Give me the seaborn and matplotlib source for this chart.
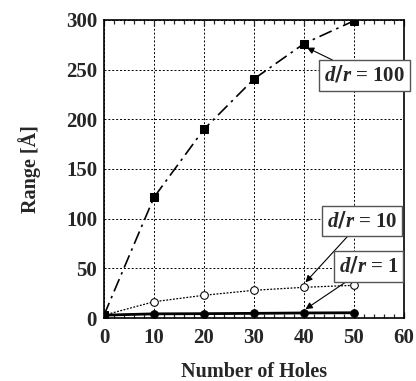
import matplotlib
matplotlib.use("Agg")
import matplotlib.pyplot as plt
import seaborn as sns
import pandas as pd
from matplotlib.ticker import MultipleLocator

holes = [0, 10, 20, 30, 40, 50]
range_dr100 = [3, 121.5, 190, 240.5, 276, 299]
range_dr10 = [3, 16.5, 23, 28, 31, 33]
range_dr1 = [3, 4.3, 4.5, 4.8, 5.2, 5.4]

sns.set_style("ticks")
plt.rcParams["font.family"] = ["Liberation Serif", "DejaVu Serif"]
plt.rcParams["font.weight"] = "bold"
plt.rcParams["mathtext.fontset"] = "custom"
plt.rcParams["mathtext.it"] = "Liberation Serif:italic:bold"

df = pd.DataFrame({"holes": holes, "dr100": range_dr100,
                   "dr10": range_dr10, "dr1": range_dr1})

fig = plt.figure(figsize=(4.16, 3.81), dpi=100)
ax = fig.add_axes([0.25, 0.165, 0.721, 0.783])

sns.lineplot(data=df, x="holes", y="dr100", ax=ax, color="black", lw=1.2,
             marker="s", markersize=5.5, markerfacecolor="black",
             markeredgecolor="black")
ax.lines[-1].set_dashes([8, 3, 1.5, 3])
sns.lineplot(data=df, x="holes", y="dr10", ax=ax, color="black", lw=0.9,
             marker="o", markersize=5.5, markerfacecolor="white",
             markeredgecolor="black")
ax.lines[-1].set_dashes([1.5, 1.2])
sns.lineplot(data=df, x="holes", y="dr1", ax=ax, color="black", lw=2.0,
             marker="o", markersize=5.5, markerfacecolor="black",
             markeredgecolor="black")

ax.set_xlim(0, 60)
ax.set_ylim(0, 300)
ax.xaxis.set_major_locator(MultipleLocator(10))
ax.xaxis.set_minor_locator(MultipleLocator(2))
ax.yaxis.set_major_locator(MultipleLocator(50))
ax.tick_params(axis="x", which="both", direction="in", top=True, length=4,
               width=0.9, labelsize=15, pad=7)
ax.tick_params(axis="x", which="minor", length=3)
ax.tick_params(axis="y", which="both", direction="in", length=0,
               labelsize=15, pad=5)
ax.grid(True, color="black", linestyle=(0, (2, 2)), lw=0.7)
for s in ax.spines.values():
    s.set_linewidth(1.2)
    s.set_color("black")

ax.set_xlabel("Number of Holes", fontsize=14.5, fontweight="bold", labelpad=10)
ax.set_ylabel("Range [Å]", fontsize=14.5, fontweight="bold", labelpad=18)

box = dict(boxstyle="square,pad=0.22", fc="white", ec="#555555", lw=1.0)
arrow = dict(arrowstyle="-|>", color="black", lw=0.8, mutation_scale=10,
             shrinkA=0, shrinkB=0)
ax.annotate(r"$\mathit{d/r}$ = 100", xy=(40.6, 272), xytext=(52.1, 244),
            ha="center", va="center", fontsize=15, fontweight="bold",
            bbox=box, arrowprops=arrow, zorder=5)
ax.annotate(r"$\mathit{d/r}$ = 10", xy=(40.3, 36), xytext=(51.6, 98),
            ha="center", va="center", fontsize=15, fontweight="bold",
            bbox=box, arrowprops=arrow, zorder=5)
ax.annotate(r"$\mathit{d/r}$ = 1", xy=(40.3, 9), xytext=(53.0, 52),
            ha="center", va="center", fontsize=15, fontweight="bold",
            bbox=box, arrowprops=arrow, zorder=5)

fig.savefig("out.png", dpi=100)
